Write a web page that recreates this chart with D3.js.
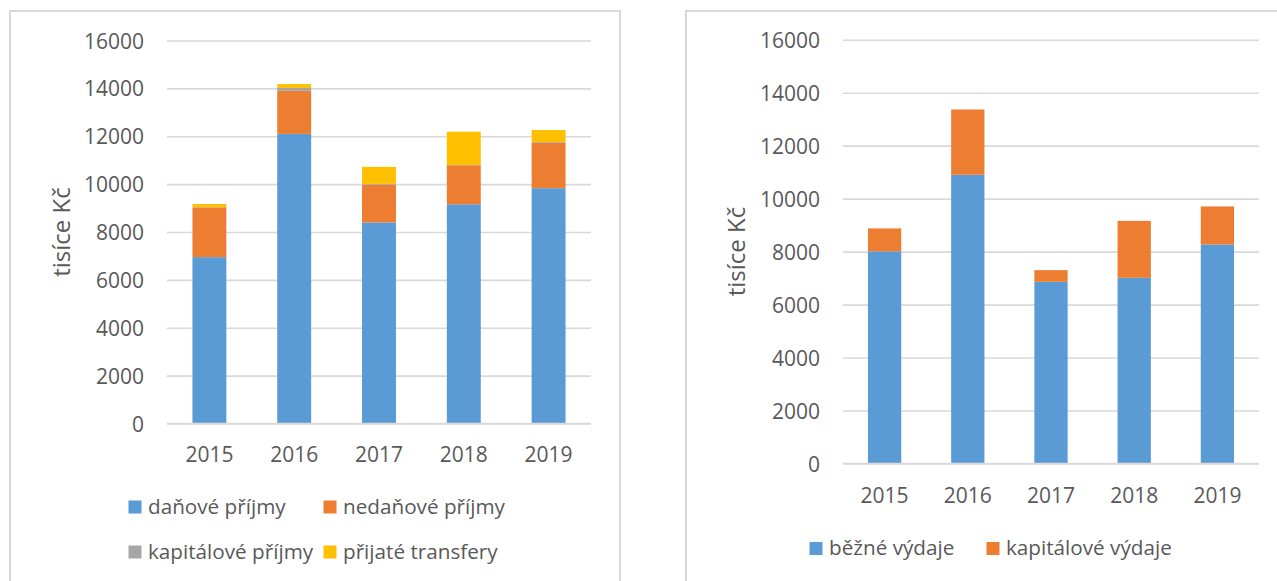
<!DOCTYPE html>
<html>
<head>
<meta charset="utf-8">
<script src="https://cdn.jsdelivr.net/npm/d3@7"></script>
<style>
  html, body { margin: 0; padding: 0; background: #fff; }
  svg { display: block; }
  text { font-family: "Open Sans", "Noto Sans", sans-serif; fill: #595959; }
</style>
</head>
<body>
<svg id="chart" width="1277" height="581"></svg>
<script>
// ---- data ----
const years = ["2015", "2016", "2017", "2018", "2019"];
const yTicks = [0, 2000, 4000, 6000, 8000, 10000, 12000, 14000, 16000];

// left chart (příjmy)
const danovePrijmy = [6950, 12100, 8400, 9160, 9830];
const nedanovePrijmy = [2080, 1800, 1580, 1630, 1900];
const kapitalovePrijmy = [10, 120, 30, 10, 30];
const prijateTransfery = [130, 160, 710, 1390, 500];
const leftSeriesNames = ["daňové příjmy", "nedaňové příjmy", "kapitálové příjmy", "přijaté transfery"];

// right chart (výdaje)
const bezneVydaje = [8010, 10900, 6860, 7010, 8270];
const kapitaloveVydaje = [865, 2465, 440, 2150, 1435];
const rightSeriesNames = ["běžné výdaje", "kapitálové výdaje"];

const yLabel = "tisíce Kč";
const colors = ["#5b9bd5", "#ed7d31", "#a5a5a5", "#ffc000"];

const svg = d3.select("#chart");

// panel borders
svg.append("path")
  .attr("d", "M10,581 V11 H620 V581")
  .attr("fill", "none").attr("stroke", "#d9d9d9").attr("stroke-width", 2);
svg.append("path")
  .attr("d", "M686,581 V11 H1277")
  .attr("fill", "none").attr("stroke", "#d9d9d9").attr("stroke-width", 2);

function drawChart(cfg) {
  const g = svg.append("g");
  const y = d3.scaleLinear().domain([0, 16000]).range([cfg.y0, cfg.y1]);
  const x = d3.scaleBand().domain(years).range([cfg.x0, cfg.x1])
    .paddingInner(0.6).paddingOuter(0.3);

  // gridlines
  const grid = g.append("g").attr("transform", `translate(${cfg.x0},0)`)
    .call(d3.axisLeft(y).tickValues(yTicks).tickSize(-(cfg.x1 - cfg.x0)).tickFormat(""));
  grid.select(".domain").remove();
  grid.selectAll("line").attr("stroke", "#d9d9d9").attr("stroke-width", 1.6);

  // y tick labels
  const ya = g.append("g").attr("transform", `translate(${cfg.labelRight},0)`)
    .call(d3.axisLeft(y).tickValues(yTicks).tickSize(0).tickPadding(0).tickFormat(d3.format("d")));
  ya.select(".domain").remove();
  ya.selectAll("text").attr("font-size", 21).attr("dy", "0.36em")
    .attr("font-family", null).attr("fill", "#595959");

  // stacked bars
  const rows = years.map((yr, i) => {
    const o = { year: yr };
    cfg.series.forEach((s, k) => o[k] = s[i]);
    return o;
  });
  const stack = d3.stack().keys(cfg.series.map((s, k) => k))(rows);
  stack.forEach((layer, k) => {
    g.append("g").attr("fill", colors[k])
      .selectAll("rect").data(layer).join("rect")
      .attr("x", d => x(d.data.year))
      .attr("width", x.bandwidth())
      .attr("y", d => y(d[1]))
      .attr("height", d => y(d[0]) - y(d[1]));
  });

  // baseline
  g.append("line").attr("x1", cfg.x0).attr("x2", cfg.x1)
    .attr("y1", y(0)).attr("y2", y(0)).attr("stroke", "#d9d9d9").attr("stroke-width", 1.6);

  // x labels
  const xa = g.append("g").attr("transform", `translate(0,${cfg.yearBaseline})`)
    .call(d3.axisBottom(x).tickSize(0).tickPadding(0));
  xa.select(".domain").remove();
  xa.selectAll("text").attr("y", 0).attr("dy", 0).attr("font-size", 21)
    .attr("font-family", null).attr("fill", "#595959");

  // y axis title
  g.append("text")
    .attr("transform", `translate(${cfg.titleX},${(cfg.y0 + cfg.y1) / 2}) rotate(-90)`)
    .attr("text-anchor", "middle").attr("dy", "0.35em")
    .attr("font-size", 24).text(yLabel);

  // legend
  cfg.legend.forEach((it, k) => {
    g.append("rect").attr("x", it.x).attr("y", it.y - 13).attr("width", 13).attr("height", 13)
      .attr("fill", colors[k]);
    g.append("text").attr("x", it.x + 19.5).attr("y", it.y)
      .attr("font-size", 20.7).text(cfg.names[k]);
  });
}

drawChart({
  x0: 167, x1: 591, y0: 423.5, y1: 40.5,
  labelRight: 144, yearBaseline: 461.7, titleX: 62,
  series: [danovePrijmy, nedanovePrijmy, kapitalovePrijmy, prijateTransfery],
  names: leftSeriesNames,
  legend: [ {x: 128.5, y: 513.5}, {x: 323.5, y: 513.5}, {x: 128.5, y: 558.5}, {x: 323.5, y: 558.5} ]
});

drawChart({
  x0: 843, x1: 1259, y0: 463.5, y1: 39.7,
  labelRight: 820, yearBaseline: 502.7, titleX: 737,
  series: [bezneVydaje, kapitaloveVydaje],
  names: rightSeriesNames,
  legend: [ {x: 809.5, y: 555}, {x: 986.5, y: 555} ]
});
</script>
</body>
</html>
